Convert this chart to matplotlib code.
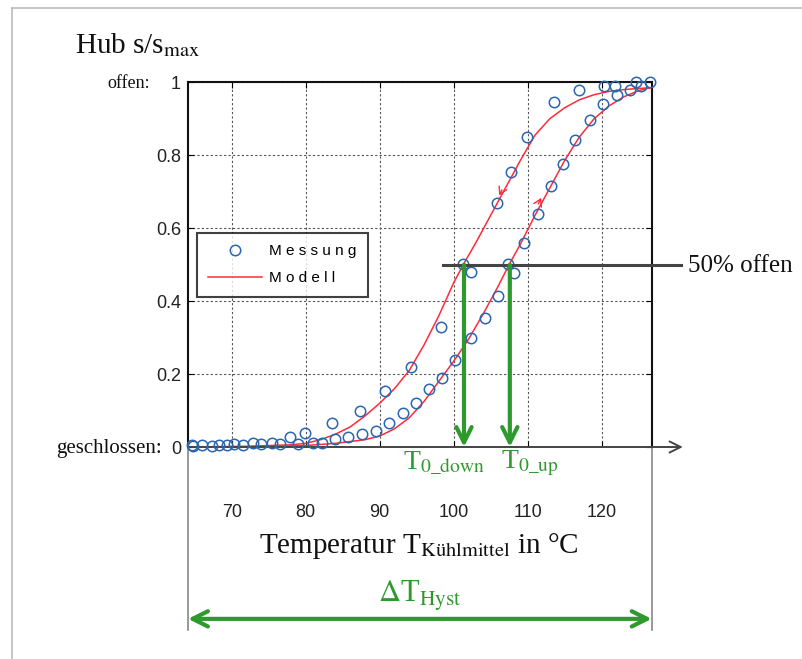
import matplotlib
matplotlib.use("Agg")
import matplotlib.pyplot as plt
from matplotlib.lines import Line2D

# ---------------- data ----------------
cool_T = [64.6, 66.0, 68.3, 70.3, 72.8, 75.4, 77.8, 79.9, 83.6, 87.3, 90.7, 94.3,
          98.3, 101.3, 102.4, 105.9, 107.8, 109.9, 113.6, 117.0, 120.4, 121.8, 124.7, 126.6]
cool_s = [0.005, 0.005, 0.006, 0.008, 0.010, 0.012, 0.027, 0.038, 0.065, 0.100, 0.154, 0.220,
          0.328, 0.503, 0.480, 0.669, 0.754, 0.850, 0.946, 0.980, 0.990, 0.990, 1.000, 1.000]

heat_T = [64.8, 67.3, 69.3, 71.5, 74.0, 76.5, 79.0, 81.0, 82.2, 84.0, 85.7, 87.6, 89.5,
          91.3, 93.2, 94.9, 96.7, 98.4, 100.2, 102.3, 104.2, 106.0, 107.4, 108.1, 109.5,
          111.4, 113.2, 114.8, 116.4, 118.4, 120.2, 122.1, 123.8, 125.4]
heat_s = [0.003, 0.004, 0.005, 0.006, 0.007, 0.008, 0.009, 0.010, 0.012, 0.021, 0.028, 0.035, 0.044,
          0.065, 0.094, 0.120, 0.158, 0.190, 0.238, 0.298, 0.354, 0.414, 0.503, 0.478, 0.558,
          0.640, 0.715, 0.777, 0.841, 0.896, 0.941, 0.964, 0.978, 0.990]

model_cool_T = [64.0, 72, 78, 80, 82, 84, 86, 88, 90, 92, 94, 96, 98, 100, 101.3, 103, 105,
                107, 109, 111, 113, 115, 117, 119, 121, 123, 125, 126.6]
model_cool_s = [0.0, 0.002, 0.006, 0.010, 0.020, 0.035, 0.055, 0.085, 0.120, 0.160, 0.210, 0.280,
                0.360, 0.450, 0.500, 0.560, 0.635, 0.710, 0.785, 0.855, 0.900, 0.930, 0.952,
                0.966, 0.975, 0.980, 0.983, 0.985]

model_heat_T = [64.0, 75, 80, 84, 86, 88, 90, 92, 94, 96, 98, 100, 102, 104, 106, 107.5, 109,
                111, 113, 115, 117, 119, 121, 123, 125, 126.6]
model_heat_s = [0.0, 0.001, 0.004, 0.010, 0.015, 0.020, 0.030, 0.050, 0.080, 0.125, 0.180, 0.235,
                0.295, 0.365, 0.440, 0.500, 0.555, 0.635, 0.710, 0.785, 0.850, 0.900, 0.935,
                0.960, 0.977, 0.985]

x_ticks = [70, 80, 90, 100, 110, 120]
y_ticks = [0, 0.2, 0.4, 0.6, 0.8, 1]
y_ticklabels = ["0", "0.2", "0.4", "0.6", "0.8", "1"]
T0_down = 101.4
T0_up = 107.6
xmin, xmax = 64.07, 126.79

# ---------------- figure ----------------
W, H = 802, 659
fig = plt.figure(figsize=(W / 100, H / 100), dpi=100)
plt.rcParams["mathtext.fontset"] = "stix"

def fx(px):
    return px / W

def fy(py):
    return 1 - py / H

ax = fig.add_axes([fx(188), fy(447), fx(651.7) - fx(188), fy(82.3) - fy(447)])
ax.set_xlim(xmin, xmax)
ax.set_ylim(0, 1)

SANS = "Liberation Sans"
SERIF = "Liberation Serif"
GREEN = "#2e9a2e"
BLUE = "#2a66b0"
RED = "#ff2a3a"

ax.grid(True, color="#555555", linestyle=(0, (2, 2)), linewidth=0.8)
ax.set_axisbelow(True)
ax.set_xticks(x_ticks)
ax.set_yticks(y_ticks)
ax.set_yticklabels(y_ticklabels, fontfamily=SANS, fontsize=13, color="#222222")
ax.set_xticklabels([str(t) for t in x_ticks], fontfamily=SANS, fontsize=13, color="#222222")
ax.tick_params(direction="in", length=4, top=True, right=True, width=0.8)
ax.tick_params(axis="x", pad=41)
ax.tick_params(axis="y", pad=5)
for s in ["left", "top", "right"]:
    ax.spines[s].set_linewidth(1.5)
    ax.spines[s].set_color("#111111")
ax.spines["bottom"].set_visible(False)

# model lines
ax.plot(model_cool_T, model_cool_s, color=RED, lw=1.1, zorder=3)
ax.plot(model_heat_T, model_heat_s, color=RED, lw=1.1, zorder=3)
# measurement
ax.plot(cool_T, cool_s, "o", mfc="none", mec=BLUE, ms=7.5, mew=1.1, zorder=4, clip_on=False)
ax.plot(heat_T, heat_s, "o", mfc="none", mec=BLUE, ms=7.5, mew=1.1, zorder=4, clip_on=False)

# direction arrows on model lines
ax.annotate("", xy=(106.0, 0.683), xytext=(106.7, 0.712),
            arrowprops=dict(arrowstyle="->,head_length=0.5,head_width=0.3", color=RED, lw=1.0))
ax.annotate("", xy=(112.0, 0.690), xytext=(111.3, 0.660),
            arrowprops=dict(arrowstyle="->,head_length=0.5,head_width=0.3", color=RED, lw=1.0))

# x axis with arrow
ax.annotate("", xy=(131.0, 0), xytext=(xmin, 0), annotation_clip=False,
            arrowprops=dict(arrowstyle="->,head_length=0.8,head_width=0.4", color="#444444",
                            lw=1.4, shrinkA=0, shrinkB=0))

# 50% line
ax.plot([98.5, 130.7], [0.5, 0.5], color="#444444", lw=2.2, clip_on=False, zorder=5)

# green arrows T0
for t0 in [T0_down, T0_up]:
    ax.annotate("", xy=(t0, 0.0), xytext=(t0, 0.5), annotation_clip=False,
                arrowprops=dict(arrowstyle="->,head_length=1.1,head_width=0.55", color=GREEN,
                                lw=3, shrinkA=0, shrinkB=0), zorder=6)

# delta T hyst arrow
y_hyst = (447 - 619) / 365.0
ax.annotate("", xy=(xmax, y_hyst), xytext=(xmin, y_hyst), annotation_clip=False,
            arrowprops=dict(arrowstyle="<->,head_length=1.1,head_width=0.55", color=GREEN,
                            lw=3, shrinkA=0, shrinkB=0))
# gray vertical lines below axes
y_bot = (447 - 630) / 365.0
for xv in [xmin, xmax]:
    ax.plot([xv, xv], [0, y_bot], color="#888888", lw=1.2, clip_on=False)

# legend
handles = [Line2D([], [], ls="none", marker="o", mfc="none", mec=BLUE, ms=7.5, mew=1.1),
           Line2D([], [], color=RED, lw=1.1)]
leg = ax.legend(handles, ["M e s s u n g", "M o d e l l"], loc="upper left",
                bbox_to_anchor=(fx(196.7), fy(233)), bbox_transform=fig.transFigure,
                prop={"family": SANS, "size": 11}, frameon=True, fancybox=False,
                handlelength=3.5, handletextpad=0.5, borderpad=0.75, labelspacing=0.84,
                borderaxespad=0)
leg.get_frame().set_edgecolor("#111111")
leg.get_frame().set_linewidth(1.5)
leg.set_zorder(10)

# texts
fig.text(fx(75), fy(45), r"Hub s/s$_{\mathrm{max}}$", fontfamily=SERIF, fontsize=21,
         va="center", ha="left", color="#111111")
fig.text(fx(150), fy(84), "offen:", fontfamily=SERIF, fontsize=13, ha="right", va="center",
         color="#111111")
fig.text(fx(162), fy(449), "geschlossen:", fontfamily=SERIF, fontsize=15, ha="right", va="center",
         color="#111111")
fig.text(fx(688), fy(266), "50% offen", fontfamily=SERIF, fontsize=18, ha="left", va="center",
         color="#111111")
fig.text(fx(444), fy(463), r"T$_{\mathrm{0\_down}}$", fontfamily=SERIF, fontsize=20,
         ha="center", va="center", color=GREEN)
fig.text(fx(530), fy(463), r"T$_{\mathrm{0\_up}}$", fontfamily=SERIF, fontsize=20,
         ha="center", va="center", color=GREEN)
fig.text(fx(419), fy(546), r"Temperatur T$_{\mathrm{Kühlmittel}}$ in °C", fontfamily=SERIF,
         fontsize=21, ha="center", va="center", color="#111111")
fig.text(fx(420), fy(596), r"$\Delta$T$_{\mathrm{Hyst}}$", fontfamily=SERIF, fontsize=22,
         ha="center", va="center", color=GREEN)

# outer frame (top and left)
fig.add_artist(Line2D([fx(12), fx(802)], [fy(8), fy(8)], color="#bbbbbb", lw=1.2))
fig.add_artist(Line2D([fx(12), fx(12)], [fy(8), fy(659)], color="#bbbbbb", lw=1.2))

fig.savefig("out.png", dpi=100)
